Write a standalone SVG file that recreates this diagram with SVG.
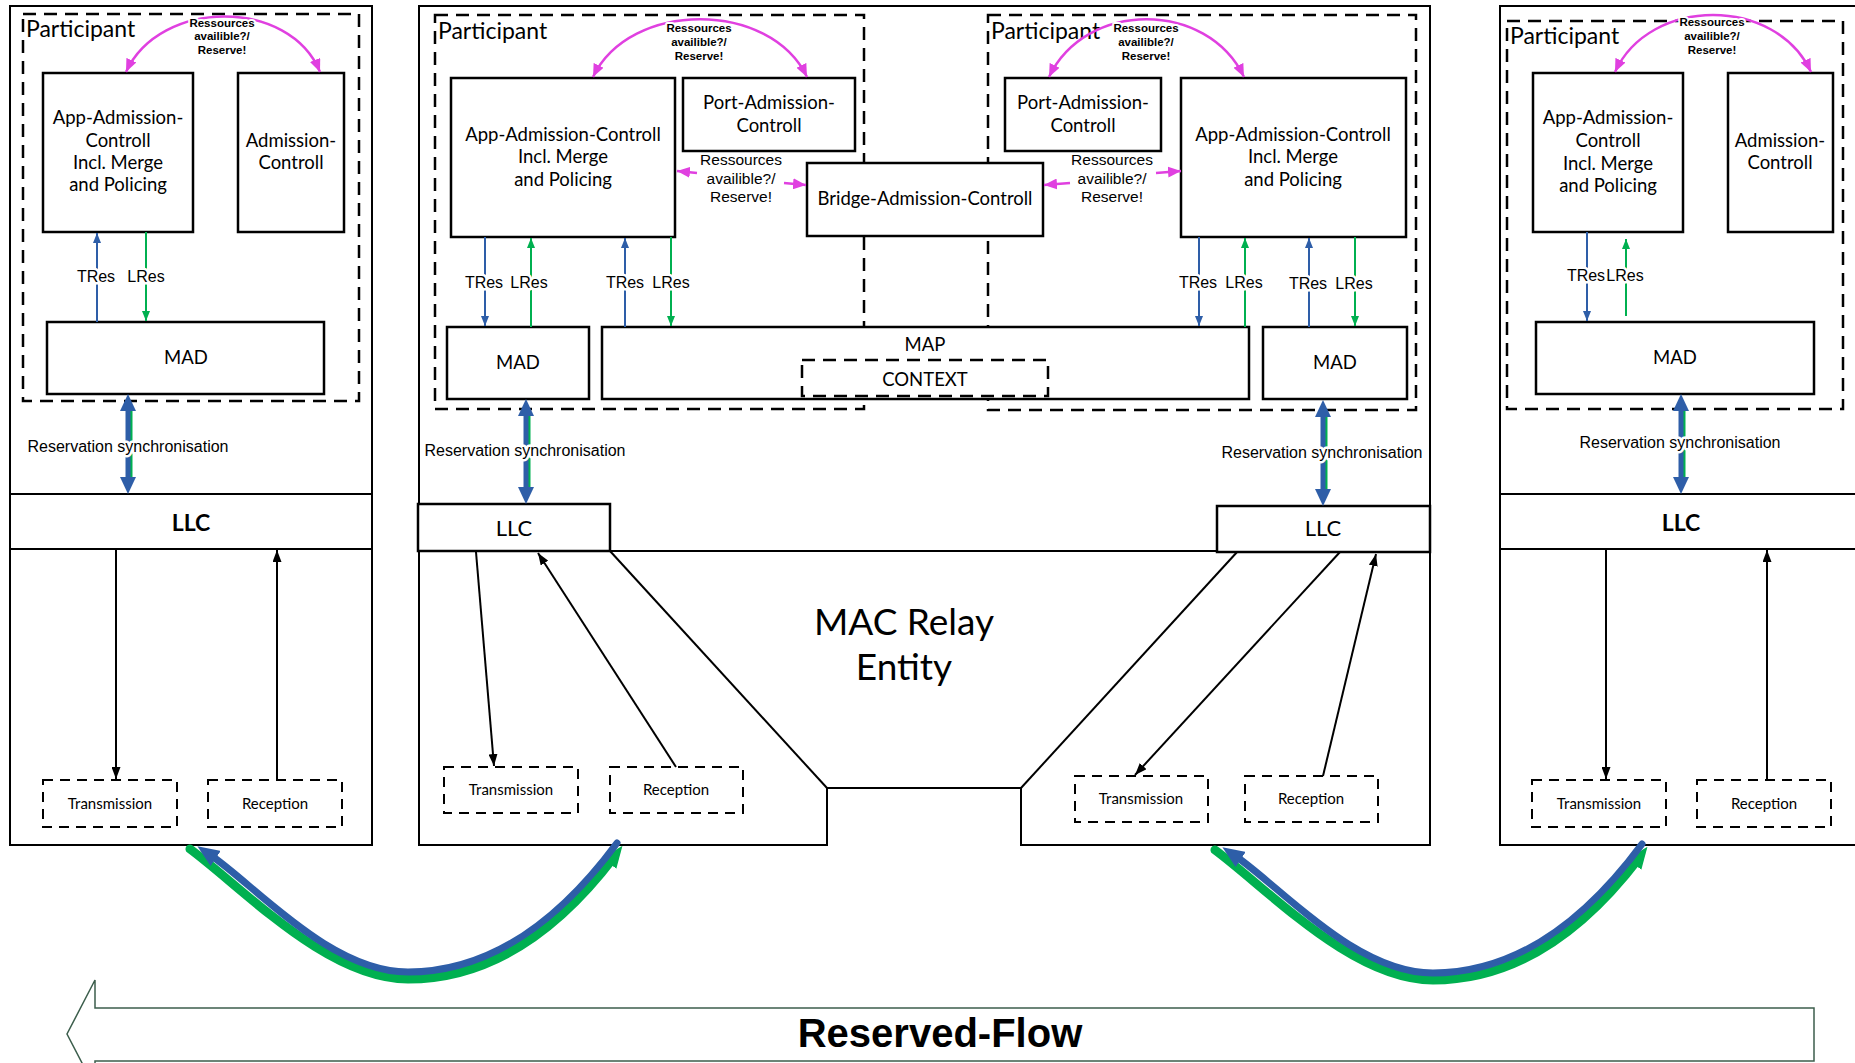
<svg xmlns="http://www.w3.org/2000/svg" width="1855" height="1063" viewBox="0 0 1855 1063">
<style>
.box{fill:#fff;stroke:#000;stroke-width:2.5}
.ln{fill:none;stroke:#000;stroke-width:2}
.dash{fill:none;stroke:#000;stroke-width:2.5;stroke-dasharray:13 8}
.sdash{fill:#fff;stroke:#000;stroke-width:2;stroke-dasharray:10 7}
.c{font-family:Lato,"Liberation Sans",sans-serif;font-size:18.5px;text-anchor:middle;fill:#000}
.part{font-family:Lato,"Liberation Sans",sans-serif;font-size:23px;fill:#000}
.small{font-family:Lato,"Liberation Sans",sans-serif;font-size:15px;text-anchor:middle}
.llcb{font-family:Lato,"Liberation Sans",sans-serif;font-size:23px;font-weight:bold;text-anchor:middle}
.llc{font-family:Lato,"Liberation Sans",sans-serif;font-size:22px;text-anchor:middle}
.big{font-family:Lato,"Liberation Sans",sans-serif;font-size:37px;text-anchor:middle}
.lbl{font-family:"Liberation Sans",Arial,sans-serif;font-size:16px;text-anchor:middle;paint-order:stroke;stroke:#fff;stroke-width:5px;stroke-linejoin:round;fill:#000}
.mlbl{font-family:"Liberation Sans",Arial,sans-serif;font-size:15.5px;text-anchor:middle;fill:#000}
.tiny{font-family:"Liberation Sans",Arial,sans-serif;font-size:11.5px;font-weight:bold;text-anchor:middle;paint-order:stroke;stroke:#fff;stroke-width:4px;stroke-linejoin:round;fill:#000}
.bl{stroke:#2e5ea8;stroke-width:2;fill:none}
.gr{stroke:#00b050;stroke-width:2;fill:none}
.mg{stroke:#e040e0;stroke-width:2.5;fill:none}
.blk{stroke:#000;stroke-width:2;fill:none}
</style>
<defs>
<marker id="ab" viewBox="0 0 10 8" refX="10" refY="4" markerWidth="10" markerHeight="8" orient="auto" markerUnits="userSpaceOnUse"><path d="M0,0 L10,4 L0,8 z" fill="#2e5ea8"/></marker>
<marker id="ag" viewBox="0 0 10 8" refX="10" refY="4" markerWidth="10" markerHeight="8" orient="auto" markerUnits="userSpaceOnUse"><path d="M0,0 L10,4 L0,8 z" fill="#00b050"/></marker>
<marker id="ak" viewBox="0 0 12 9" refX="12" refY="4.5" markerWidth="12" markerHeight="9" orient="auto" markerUnits="userSpaceOnUse"><path d="M0,0 L12,4.5 L0,9 z" fill="#000"/></marker>
<marker id="am" viewBox="0 0 13 11" refX="13" refY="5.5" markerWidth="13" markerHeight="11" orient="auto-start-reverse" markerUnits="userSpaceOnUse"><path d="M0,0 L13,5.5 L0,11 z" fill="#e040e0"/></marker>
<marker id="cb" viewBox="0 0 22 18" refX="8" refY="9" markerWidth="22" markerHeight="18" orient="auto-start-reverse" markerUnits="userSpaceOnUse"><path d="M0,0 L22,9 L0,18 z" fill="#2e5ea8"/></marker>
<marker id="cg" viewBox="0 0 22 18" refX="8" refY="9" markerWidth="22" markerHeight="18" orient="auto" markerUnits="userSpaceOnUse"><path d="M0,0 L22,9 L0,18 z" fill="#00b050"/></marker>
</defs>

<!-- LEFT COLUMN -->
<g id="left-station">
<rect x="10" y="6" width="362" height="839" class="ln"/>
<line x1="10" y1="494" x2="372" y2="494" class="ln"/>
<line x1="10" y1="549" x2="372" y2="549" class="ln"/>
<rect x="23" y="14" width="336" height="387" class="dash"/>
<text x="26" y="37" class="part">Participant</text>
</g>
<g id="left-app">
<rect x="43" y="73" width="150" height="159" class="box"/>
<text class="c"><tspan x="118" y="124">App-Admission-</tspan><tspan x="118" y="147">Controll</tspan><tspan x="118" y="169">Incl. Merge</tspan><tspan x="118" y="191">and Policing</tspan></text>
</g>
<g id="left-adm">
<rect x="238" y="73" width="106" height="159" class="box"/>
<text class="c"><tspan x="291" y="147">Admission-</tspan><tspan x="291" y="169">Controll</tspan></text>
</g>
<g id="left-mad">
<rect x="47" y="322" width="277" height="72" class="box"/>
<text x="186" y="364" class="c">MAD</text>
</g>
<g id="left-llc"><text x="191" y="531" class="llcb">LLC</text></g>
<g id="left-tx">
<rect x="43" y="780" width="134" height="47" class="sdash"/>
<text x="110" y="809" class="small">Transmission</text>
</g>
<g id="left-rx">
<rect x="208" y="780" width="134" height="47" class="sdash"/>
<text x="275" y="809" class="small">Reception</text>
</g>

<!-- RIGHT COLUMN -->
<g id="right-station">
<path d="M1856,6 H1500 V845 H1856" class="ln"/>
<line x1="1500" y1="494" x2="1856" y2="494" class="ln"/>
<line x1="1500" y1="549" x2="1856" y2="549" class="ln"/>
<rect x="1507" y="21" width="336" height="388" class="dash"/>
<text x="1510" y="44" class="part">Participant</text>
</g>
<g id="right-app">
<rect x="1533" y="73" width="150" height="159" class="box"/>
<text class="c"><tspan x="1608" y="124">App-Admission-</tspan><tspan x="1608" y="147">Controll</tspan><tspan x="1608" y="170">Incl. Merge</tspan><tspan x="1608" y="192">and Policing</tspan></text>
</g>
<g id="right-adm">
<rect x="1728" y="73" width="105" height="159" class="box"/>
<text class="c"><tspan x="1780" y="147">Admission-</tspan><tspan x="1780" y="169">Controll</tspan></text>
</g>
<g id="right-mad">
<rect x="1536" y="322" width="278" height="72" class="box"/>
<text x="1675" y="364" class="c">MAD</text>
</g>
<g id="right-llc"><text x="1681" y="531" class="llcb">LLC</text></g>
<g id="right-tx">
<rect x="1532" y="780" width="134" height="47" class="sdash"/>
<text x="1599" y="809" class="small">Transmission</text>
</g>
<g id="right-rx">
<rect x="1697" y="780" width="134" height="47" class="sdash"/>
<text x="1764" y="809" class="small">Reception</text>
</g>

<!-- MIDDLE BRIDGE -->
<g id="bridge">
<path d="M419,6 H1430 V845 H1021 V788 H827 V845 H419 Z" class="ln"/>
<line x1="419" y1="551" x2="1430" y2="551" class="ln" stroke-width="2.5"/>
<line x1="610" y1="551" x2="827" y2="788" class="ln"/>
<line x1="1021" y1="788" x2="1238" y2="551" class="ln"/>
<rect x="435" y="15" width="429" height="394" class="dash"/>
<rect x="988" y="15" width="428" height="395" class="dash"/>
<text x="438" y="39" class="part">Participant</text>
<text x="991" y="39" class="part">Participant</text>
<text class="big"><tspan x="904" y="635">MAC Relay</tspan><tspan x="904" y="680">Entity</tspan></text>
</g>
<g id="llc-a">
<rect x="418" y="504" width="192" height="47" class="box" stroke-width="2"/>
<text x="514" y="536" class="llc">LLC</text>
</g>
<g id="llc-b">
<rect x="1217" y="506" width="213" height="46" class="box" stroke-width="2"/>
<text x="1323" y="536" class="llc">LLC</text>
</g>
<g id="p1-app">
<rect x="451" y="78" width="224" height="159" class="box"/>
<text class="c"><tspan x="563" y="141">App-Admission-Controll</tspan><tspan x="563" y="163">Incl. Merge</tspan><tspan x="563" y="186">and Policing</tspan></text>
</g>
<g id="p1-port">
<rect x="683" y="78" width="172" height="73" class="box"/>
<text class="c"><tspan x="769" y="109">Port-Admission-</tspan><tspan x="769" y="132">Controll</tspan></text>
</g>
<g id="bridge-adm">
<rect x="807" y="163" width="236" height="73" class="box"/>
<text x="925" y="205" class="c">Bridge-Admission-Controll</text>
</g>
<g id="p2-port">
<rect x="1005" y="78" width="156" height="73" class="box"/>
<text class="c"><tspan x="1083" y="109">Port-Admission-</tspan><tspan x="1083" y="132">Controll</tspan></text>
</g>
<g id="p2-app">
<rect x="1181" y="78" width="225" height="159" class="box"/>
<text class="c"><tspan x="1293" y="141">App-Admission-Controll</tspan><tspan x="1293" y="163">Incl. Merge</tspan><tspan x="1293" y="186">and Policing</tspan></text>
</g>
<g id="p1-mad">
<rect x="447" y="327" width="142" height="72" class="box"/>
<text x="518" y="369" class="c">MAD</text>
</g>
<g id="map">
<rect x="602" y="327" width="647" height="72" class="box"/>
<text x="925" y="351" class="c" font-size="23">MAP</text>
<rect x="802" y="360" width="246" height="36" class="dash"/>
<text x="925" y="386" class="c" font-size="23">CONTEXT</text>
</g>
<g id="p2-mad">
<rect x="1263" y="327" width="144" height="72" class="box"/>
<text x="1335" y="369" class="c">MAD</text>
</g>
<g id="m-tx1">
<rect x="444" y="767" width="134" height="46" class="sdash"/>
<text x="511" y="795" class="small">Transmission</text>
</g>
<g id="m-rx1">
<rect x="610" y="767" width="133" height="46" class="sdash"/>
<text x="676" y="795" class="small">Reception</text>
</g>
<g id="m-tx2">
<rect x="1075" y="776" width="133" height="46" class="sdash"/>
<text x="1141" y="804" class="small">Transmission</text>
</g>
<g id="m-rx2">
<rect x="1245" y="776" width="133" height="46" class="sdash"/>
<text x="1311" y="804" class="small">Reception</text>
</g>

<!-- Reserved flow -->
<g id="reserved-flow">
<polygon points="1814,1008 95,1008 95,980 67,1034 95,1088 95,1061 1814,1061" fill="#fff" stroke="#3c5e4c" stroke-width="1.5"/>
<text x="940" y="1047" font-family="'Liberation Sans',Arial,sans-serif" font-size="40" font-weight="bold" text-anchor="middle">Reserved-Flow</text>
</g>

<!-- CONNECTORS -->
<g id="connectors">
<path d="M126,72 C160,-2 290,-2 320,72" class="mg" marker-start="url(#am)" marker-end="url(#am)"/>
<path d="M593,77 C630,0 770,0 807,77" class="mg" marker-start="url(#am)" marker-end="url(#am)"/>
<path d="M1049,77 C1086,0 1207,0 1244,77" class="mg" marker-start="url(#am)" marker-end="url(#am)"/>
<path d="M1615,72 C1650,-4 1776,-4 1811,72" class="mg" marker-start="url(#am)" marker-end="url(#am)"/>
<text class="tiny"><tspan x="222" y="27">Ressources</tspan><tspan x="222" y="40">availible?/</tspan><tspan x="222" y="54">Reserve!</tspan></text>
<text class="tiny"><tspan x="699" y="32">Ressources</tspan><tspan x="699" y="46">availible?/</tspan><tspan x="699" y="60">Reserve!</tspan></text>
<text class="tiny"><tspan x="1146" y="32">Ressources</tspan><tspan x="1146" y="46">availible?/</tspan><tspan x="1146" y="60">Reserve!</tspan></text>
<text class="tiny"><tspan x="1712" y="26">Ressources</tspan><tspan x="1712" y="40">availible?/</tspan><tspan x="1712" y="54">Reserve!</tspan></text>
<line x1="697" y1="173" x2="677" y2="171" class="mg" marker-end="url(#am)"/>
<line x1="784" y1="183" x2="806" y2="185" class="mg" marker-end="url(#am)"/>
<line x1="1070" y1="183" x2="1044" y2="185" class="mg" marker-end="url(#am)"/>
<line x1="1156" y1="173" x2="1181" y2="171" class="mg" marker-end="url(#am)"/>
<text class="mlbl"><tspan x="741" y="165">Ressources</tspan><tspan x="741" y="184">availible?/</tspan><tspan x="741" y="202">Reserve!</tspan></text>
<text class="mlbl"><tspan x="1112" y="165">Ressources</tspan><tspan x="1112" y="184">availible?/</tspan><tspan x="1112" y="202">Reserve!</tspan></text>

<line x1="97" y1="322" x2="97" y2="233" class="bl" marker-end="url(#ab)"/>
<line x1="146" y1="232" x2="146" y2="321" class="gr" marker-end="url(#ag)"/>
<text x="96" y="282" class="lbl">TRes</text><text x="146" y="282" class="lbl">LRes</text>

<line x1="485" y1="237" x2="485" y2="326" class="bl" marker-end="url(#ab)"/>
<line x1="531" y1="327" x2="531" y2="238" class="gr" marker-end="url(#ag)"/>
<line x1="625" y1="327" x2="625" y2="238" class="bl" marker-end="url(#ab)"/>
<line x1="671" y1="237" x2="671" y2="326" class="gr" marker-end="url(#ag)"/>
<text x="484" y="288" class="lbl">TRes</text><text x="529" y="288" class="lbl">LRes</text>
<text x="625" y="288" class="lbl">TRes</text><text x="671" y="288" class="lbl">LRes</text>

<line x1="1199" y1="237" x2="1199" y2="326" class="bl" marker-end="url(#ab)"/>
<line x1="1245" y1="327" x2="1245" y2="238" class="gr" marker-end="url(#ag)"/>
<line x1="1309" y1="327" x2="1309" y2="238" class="bl" marker-end="url(#ab)"/>
<line x1="1355" y1="237" x2="1355" y2="326" class="gr" marker-end="url(#ag)"/>
<text x="1198" y="288" class="lbl">TRes</text><text x="1244" y="288" class="lbl">LRes</text>
<text x="1308" y="289" class="lbl">TRes</text><text x="1354" y="289" class="lbl">LRes</text>

<line x1="1587" y1="232" x2="1587" y2="321" class="bl" marker-end="url(#ab)"/>
<line x1="1626" y1="316" x2="1626" y2="239" class="gr" marker-end="url(#ag)"/>
<text x="1586" y="281" class="lbl">TRes</text><text x="1625" y="281" class="lbl">LRes</text>

<g id="sync-left">
<line x1="131" y1="405" x2="131" y2="483" stroke="#00b050" stroke-width="3"/>
<line x1="128" y1="405" x2="128" y2="483" stroke="#2e5ea8" stroke-width="5"/>
<polygon points="128,394 136,411 120,411" fill="#2e5ea8"/>
<polygon points="128,494 136,477 120,477" fill="#2e5ea8"/>
</g>
<g id="sync-m1">
<line x1="529" y1="410" x2="529" y2="493" stroke="#00b050" stroke-width="3"/>
<line x1="526" y1="410" x2="526" y2="493" stroke="#2e5ea8" stroke-width="5"/>
<polygon points="526,399 534,416 518,416" fill="#2e5ea8"/>
<polygon points="526,504 534,487 518,487" fill="#2e5ea8"/>
</g>
<g id="sync-m2">
<line x1="1326" y1="411" x2="1326" y2="495" stroke="#00b050" stroke-width="3"/>
<line x1="1323" y1="411" x2="1323" y2="495" stroke="#2e5ea8" stroke-width="5"/>
<polygon points="1323,400 1331,417 1315,417" fill="#2e5ea8"/>
<polygon points="1323,506 1331,489 1315,489" fill="#2e5ea8"/>
</g>
<g id="sync-right">
<line x1="1684" y1="405" x2="1684" y2="483" stroke="#00b050" stroke-width="3"/>
<line x1="1681" y1="405" x2="1681" y2="483" stroke="#2e5ea8" stroke-width="5"/>
<polygon points="1681,394 1689,411 1673,411" fill="#2e5ea8"/>
<polygon points="1681,494 1689,477 1673,477" fill="#2e5ea8"/>
</g>
<text x="128" y="452" class="lbl">Reservation synchronisation</text>
<text x="525" y="456" class="lbl">Reservation synchronisation</text>
<text x="1322" y="458" class="lbl">Reservation synchronisation</text>
<text x="1680" y="448" class="lbl">Reservation synchronisation</text>

<line x1="116" y1="549" x2="116" y2="779" class="blk" marker-end="url(#ak)"/>
<line x1="277" y1="780" x2="277" y2="550" class="blk" marker-end="url(#ak)"/>
<line x1="1606" y1="549" x2="1606" y2="779" class="blk" marker-end="url(#ak)"/>
<line x1="1767" y1="780" x2="1767" y2="550" class="blk" marker-end="url(#ak)"/>
<line x1="476" y1="552" x2="494" y2="766" class="blk" marker-end="url(#ak)"/>
<line x1="676" y1="767" x2="538" y2="553" class="blk" marker-end="url(#ak)"/>
<line x1="1340" y1="552" x2="1135" y2="775" class="blk" marker-end="url(#ak)"/>
<line x1="1323" y1="776" x2="1376" y2="554" class="blk" marker-end="url(#ak)"/>

<g id="link-left">
<path d="M190,849 C245,890 328,979 408,979 C492,979 560,928 614,857" stroke="#00b050" stroke-width="9" fill="none" stroke-linecap="round" marker-end="url(#cg)"/>
<path d="M209,854 C255,885 330,972 408,972 C490,972 560,920 617,843" stroke="#2e5ea8" stroke-width="7" fill="none" stroke-linecap="round" marker-start="url(#cb)"/>
</g>
<g id="link-right" transform="translate(1025,1)">
<path d="M190,849 C245,890 328,979 408,979 C492,979 560,928 614,857" stroke="#00b050" stroke-width="9" fill="none" stroke-linecap="round" marker-end="url(#cg)"/>
<path d="M209,854 C255,885 330,972 408,972 C490,972 560,920 617,843" stroke="#2e5ea8" stroke-width="7" fill="none" stroke-linecap="round" marker-start="url(#cb)"/>
</g>
</g>
</svg>
